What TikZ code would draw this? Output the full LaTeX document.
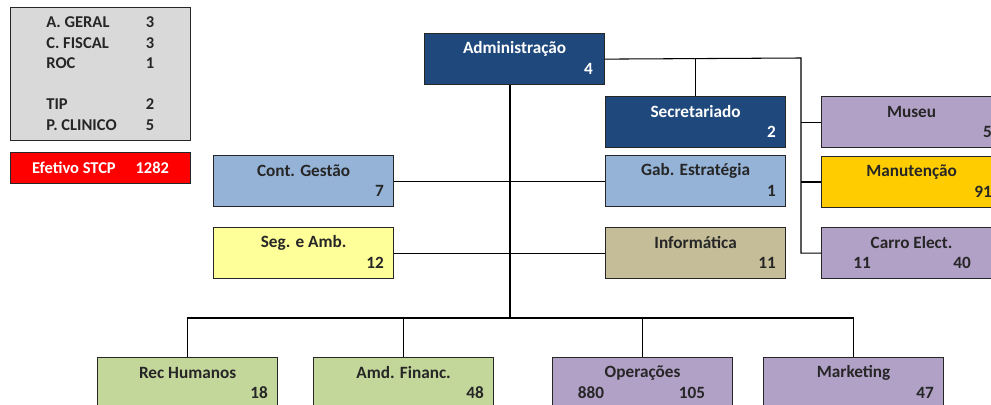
\documentclass[tikz,border=0pt]{standalone}
\usepackage{fontspec}
\setmainfont{Carlito}
\usetikzlibrary{positioning, calc}

\definecolor{admblue}{RGB}{31,73,125}
\definecolor{ltblue}{RGB}{149,179,215}
\definecolor{ltyellow}{RGB}{255,255,153}
\definecolor{tan}{RGB}{196,189,151}
\definecolor{lilac}{RGB}{178,161,199}
\definecolor{gold}{RGB}{255,204,0}
\definecolor{ltgreen}{RGB}{196,215,155}
\definecolor{legendgray}{RGB}{217,217,217}

\tikzset{
  unit/.style={draw=black!85, line width=0.7pt, minimum width=3.6cm, minimum height=1.02cm, anchor=north west, inner sep=0pt},
  ttl/.style={font=\bfseries\fontsize{9.8}{11}\selectfont, text=black!85, inner sep=0pt},
  lgd/.style={font=\bfseries\fontsize{9.4}{11}\selectfont, text=black!85, inner sep=0pt},
  num/.style={ttl, anchor=east},
  wline/.style={line width=0.6pt},
  thick line/.style={line width=1.3pt}
}

\begin{document}
\begin{tikzpicture}[x=0.02cm, y=-0.02cm]
			\useasboundingbox (0,0) rectangle (991,405);
			\clip (0,0) rectangle (991,405);
			% legend
			\node[unit, fill=legendgray, minimum width=3.6cm, minimum height=2.66cm] (legend) at (10,7) {};
			\node[lgd, anchor=west] (lg1) at (46,22) {A. GERAL};
			\node[lgd, anchor=west] (lg2) at (46,43) {C. FISCAL};
			\node[lgd, anchor=west] (lg3) at (46,63) {ROC};
			\node[lgd, anchor=west] (lg4) at (46,104) {TIP};
			\node[lgd, anchor=west] (lg5) at (46,125) {P. CLINICO};
			\node[lgd] (lv1) at (150,22) {3};
			\node[lgd] (lv2) at (150,43) {3};
			\node[lgd] (lv3) at (150,63) {1};
			\node[lgd] (lv4) at (150,104) {2};
			\node[lgd] (lv5) at (150,125) {5};
			\node[unit, fill=red, minimum height=0.62cm] (efetivo) at (10,152) {};
			\node[lgd, text=white] (efetivotxt) at (efetivo.center) {Efetivo STCP\hspace{1.2em}1282};
			% top
			\node[unit, fill=admblue] (adm) at (424,33) {};
			\node[ttl, text=white] (admt) at ($(adm.north)+(0,16)$) {Administração};
			\node[num, text=white] (admn) at ($(adm.north east)+(-12,36)$) {4};
			\node[unit, fill=admblue] (sec) at (605,96) {};
			\node[ttl, text=white] (sect) at ($(sec.north)+(0,16)$) {Secretariado};
			\node[num, text=white] (secn) at ($(sec.north east)+(-10,36)$) {2};
			% middle
			\node[unit, fill=ltblue] (gestao) at (213,155) {};
			\node[ttl] (gestaot) at ($(gestao.north)+(0,16)$) {Cont. Gestão};
			\node[num] (gestaon) at ($(gestao.north east)+(-10,36)$) {7};
			\node[unit, fill=ltblue] (estrat) at (605,155) {};
			\node[ttl] (estratt) at ($(estrat.north)+(0,16)$) {Gab. Estratégia};
			\node[num] (estratn) at ($(estrat.north east)+(-10,36)$) {1};
			\node[unit, fill=ltyellow] (seg) at (213,227) {};
			\node[ttl] (segt) at ($(seg.north)+(0,16)$) {Seg. e Amb.};
			\node[num] (segn) at ($(seg.north east)+(-10,36)$) {12};
			\node[unit, fill=tan] (info) at (605,227) {};
			\node[ttl] (infot) at ($(info.north)+(0,16)$) {Informática};
			\node[num] (infon) at ($(info.north east)+(-10,36)$) {11};
			% right column
			\node[unit, fill=lilac] (museu) at (821,96) {};
			\node[ttl] (museut) at ($(museu.north)+(0,16)$) {Museu};
			\node[num] (museun) at ($(museu.north east)+(-10,36)$) {5};
			\node[unit, fill=gold] (manut) at (821,156) {};
			\node[ttl] (manutt) at ($(manut.north)+(0,16)$) {Manutenção};
			\node[num] (manutn) at ($(manut.north east)+(-10,36)$) {91};
			\node[unit, fill=lilac] (carro) at (821,227) {};
			\node[ttl] (carrot) at ($(carro.north)+(0,16)$) {Carro Elect.};
			\node[ttl] (carro1) at ($(carro.north west)+(41,36)$) {11};
			\node[ttl] (carro2) at ($(carro.north west)+(141,36)$) {40};
			% bottom
			\node[unit, fill=ltgreen] (rh) at (97,357) {};
			\node[ttl] (rht) at ($(rh.north)+(0,16)$) {Rec Humanos};
			\node[num] (rhn) at ($(rh.north east)+(-10,36)$) {18};
			\node[unit, fill=ltgreen] (fin) at (313,357) {};
			\node[ttl] (fint) at ($(fin.north)+(0,16)$) {Amd. Financ.};
			\node[num] (finn) at ($(fin.north east)+(-10,36)$) {48};
			\node[unit, fill=lilac] (oper) at (552,357) {};
			\node[ttl] (opert) at ($(oper.north)+(0,16)$) {Operações};
			\node[ttl] (oper1) at ($(oper.north west)+(39,36)$) {880};
			\node[ttl] (oper2) at ($(oper.north west)+(140,36)$) {105};
			\node[unit, fill=lilac] (mkt) at (763,357) {};
			\node[ttl] (mktt) at ($(mkt.north)+(0,16)$) {Marketing};
			\node[num] (mktn) at ($(mkt.north east)+(-10,36)$) {47};
			% connectors
			\coordinate (trunk) at (510,318);
			\coordinate (rbus) at (801,58);
			\draw[thick line] (adm.south -| trunk) -- (trunk);
			\draw[wline] (adm.east) -- (rbus) |- (carro.west);
			\draw[wline] (sec.north) -- (sec.north |- rbus);
			\draw[wline] (museu.west) -- (museu.west -| rbus);
			\draw[thick line] (manut.west) -- (manut.west -| rbus);
			\draw[wline] (gestao.east) -- (estrat.west);
			\draw[wline] (seg.east) -- (info.west);
			\draw[wline] (rh.north) |- (trunk) -| (mkt.north);
			\draw[wline] (fin.north) -- (fin.north |- trunk);
			\draw[wline] (oper.north) -- (oper.north |- trunk);
		\end{tikzpicture}
\end{document}
